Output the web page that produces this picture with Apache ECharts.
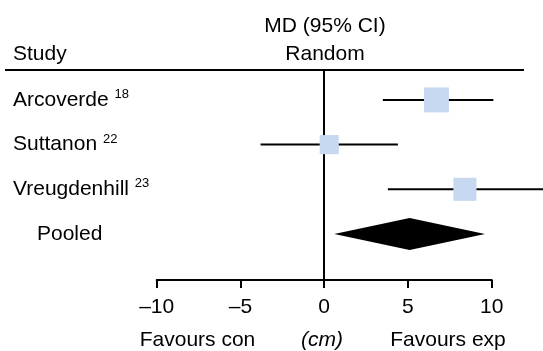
<!DOCTYPE html>
<html>
<head>
<meta charset="utf-8">
<script src="https://cdn.jsdelivr.net/npm/echarts@6/dist/echarts.min.js"></script>
<style>html,body{margin:0;padding:0;background:#fff;}#c{width:543px;height:351px;}</style>
</head>
<body>
<div id="c"></div>
<script>
const studies = ['Arcoverde', 'Suttanon', 'Vreugdenhill'];
const refs = ['18', '22', '23'];
const md = [6.7, 0.3, 8.4];
const lower = [3.5, -3.8, 3.8];
const upper = [10.1, 4.4, 13.4];
const weights = [41, 24, 35];
const pooledLabel = 'Pooled';
const pooled = [5.1, 0.6, 9.6]; // mean, lower, upper
const xTicks = [-10, -5, 0, 5, 10];

const FONT = '"Liberation Sans", Arial, sans-serif';
const FS = 21;
const chart = echarts.init(document.getElementById('c'), null, {renderer: 'canvas'});

const studyData = studies.map((s, i) => [i, md[i], lower[i], upper[i], weights[i]]);
const pooledData = [[studies.length, pooled[0], pooled[1], pooled[2]]];

function renderStudy(params, api) {
  const row = api.value(0);
  const c = api.coord([api.value(1), row]);
  const l = api.coord([api.value(2), row]);
  const u = api.coord([api.value(3), row]);
  const size = 3.9 * Math.sqrt(api.value(4));
  const i = params.dataIndex;
  return {
    type: 'group',
    children: [
      {type: 'line', shape: {x1: l[0], y1: c[1], x2: u[0], y2: c[1]}, style: {stroke: '#000', lineWidth: 2}},
      {type: 'rect', shape: {x: c[0] - size / 2, y: c[1] - size / 2, width: size, height: size}, style: {fill: '#c6d9f0'}},
      {type: 'text', x: 13, y: c[1], style: {
        text: '{n|' + studies[i] + ' }{s|' + refs[i] + '}',
        verticalAlign: 'middle', align: 'left',
        rich: {
          n: {fontSize: FS, fontFamily: FONT, fill: '#000'},
          s: {fontSize: 13, fontFamily: FONT, fill: '#000', padding: [0, 0, 11, 0]}
        }
      }}
    ]
  };
}

function renderPooled(params, api) {
  const row = api.value(0);
  const c = api.coord([api.value(1), row]);
  const l = api.coord([api.value(2), row]);
  const u = api.coord([api.value(3), row]);
  const h = 16;
  return {
    type: 'group',
    children: [
      {type: 'polygon', shape: {points: [[l[0], c[1]], [c[0], c[1] - h], [u[0], c[1]], [c[0], c[1] + h]]}, style: {fill: '#000'}},
      {type: 'text', x: 37, y: c[1], style: {text: pooledLabel, fontSize: FS, fontFamily: FONT, fill: '#000', verticalAlign: 'middle', align: 'left'}}
    ]
  };
}

const option = {
  animation: false,
  grid: {left: 156.7, right: 51.3, top: 70, bottom: 71},
  xAxis: {
    type: 'value', min: xTicks[0], max: xTicks[xTicks.length - 1], interval: 5,
    splitLine: {show: false},
    axisLine: {onZero: false, lineStyle: {color: '#000', width: 2}},
    axisTick: {show: true, length: 8, lineStyle: {color: '#000', width: 2}},
    axisLabel: {color: '#000', fontSize: FS, fontFamily: FONT, margin: 17,
      formatter: v => String(v).replace('-', '\u2013')}
  },
  yAxis: {
    type: 'value', inverse: true, min: -0.67, max: 4.03,
    splitLine: {show: false},
    axisLine: {show: true, onZero: true, lineStyle: {color: '#000', width: 2}},
    axisTick: {show: false},
    axisLabel: {show: false}
  },
  graphic: [
    {type: 'line', shape: {x1: 5, y1: 70, x2: 524, y2: 70}, style: {stroke: '#000', lineWidth: 2}},
    {type: 'text', x: 325, y: 26, style: {text: 'MD (95% CI)', fontSize: FS, fontFamily: FONT, fill: '#000', align: 'center', verticalAlign: 'middle'}},
    {type: 'text', x: 325, y: 54, style: {text: 'Random', fontSize: FS, fontFamily: FONT, fill: '#000', align: 'center', verticalAlign: 'middle'}},
    {type: 'text', x: 13, y: 54, style: {text: 'Study', fontSize: FS, fontFamily: FONT, fill: '#000', align: 'left', verticalAlign: 'middle'}},
    {type: 'text', x: 197.5, y: 340, style: {text: 'Favours con', fontSize: FS, fontFamily: FONT, fill: '#000', align: 'center', verticalAlign: 'middle'}},
    {type: 'text', x: 322, y: 340, style: {text: '(cm)', fontSize: FS, fontStyle: 'italic', fontFamily: FONT, fill: '#000', align: 'center', verticalAlign: 'middle'}},
    {type: 'text', x: 448, y: 340, style: {text: 'Favours exp', fontSize: FS, fontFamily: FONT, fill: '#000', align: 'center', verticalAlign: 'middle'}}
  ],
  series: [
    {type: 'custom', renderItem: renderStudy, data: studyData, clip: false, encode: {x: [1, 2, 3], y: 0}},
    {type: 'custom', renderItem: renderPooled, data: pooledData, clip: false, encode: {x: [1, 2, 3], y: 0}}
  ]
};
chart.setOption(option);
</script>
</body>
</html>
